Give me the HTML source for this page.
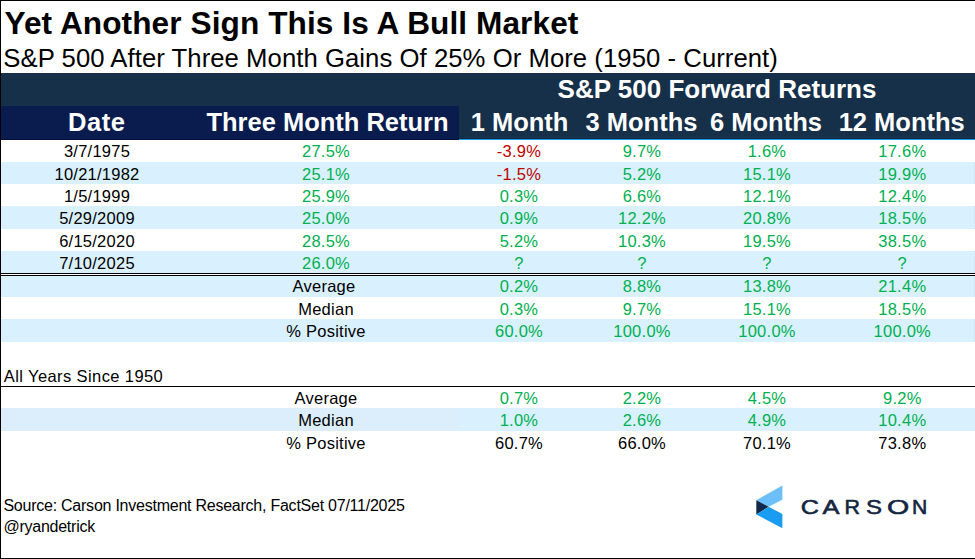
<!DOCTYPE html>
<html><head><meta charset="utf-8"><style>
html,body{margin:0;padding:0;}
body{width:975px;height:559px;position:relative;overflow:hidden;background:#fff;font-family:"Liberation Sans",sans-serif;}
.t{position:absolute;white-space:nowrap;}
.d{letter-spacing:0.25px;}
.r{position:absolute;left:0;width:975px;}
</style></head><body>
<div class="r" style="top:73px;height:66px;background:#16304a"></div>
<div class="r" style="top:138px;height:1px;left:459px;width:516px;background:#1a2841"></div>
<div class="r" style="top:106px;height:34px;width:459px;background:#0a1c4e"></div>
<div class="r" style="top:139px;height:1px;width:459px;background:#040f3c"></div>
<div class="r" style="top:139px;height:1px;left:459px;width:516px;background:#0a9fe6"></div>
<div class="r" style="top:162px;height:22px;background:#d9f0fe"></div>
<div class="r" style="top:206px;height:23px;background:#d9f0fe"></div>
<div class="r" style="top:251px;height:22px;background:#d9f0fe"></div>
<div class="t" style="left:-103.0px;width:400px;top:143.03px;font-size:16.5px;line-height:16.5px;color:#000;font-weight:normal;text-align:center;letter-spacing:0.25px;">3/7/1975</div>
<div class="t" style="left:126.0px;width:400px;top:143.03px;font-size:16.5px;line-height:16.5px;color:#00b050;font-weight:normal;text-align:center;letter-spacing:0.25px;">27.5%</div>
<div class="t" style="left:319.0px;width:400px;top:143.03px;font-size:16.5px;line-height:16.5px;color:#c00000;font-weight:normal;text-align:center;letter-spacing:0.25px;">-3.9%</div>
<div class="t" style="left:442.0px;width:400px;top:143.03px;font-size:16.5px;line-height:16.5px;color:#00b050;font-weight:normal;text-align:center;letter-spacing:0.25px;">9.7%</div>
<div class="t" style="left:567.0px;width:400px;top:143.03px;font-size:16.5px;line-height:16.5px;color:#00b050;font-weight:normal;text-align:center;letter-spacing:0.25px;">1.6%</div>
<div class="t" style="left:702.3px;width:400px;top:143.03px;font-size:16.5px;line-height:16.5px;color:#00b050;font-weight:normal;text-align:center;letter-spacing:0.25px;">17.6%</div>
<div class="t" style="left:-103.0px;width:400px;top:165.83px;font-size:16.5px;line-height:16.5px;color:#000;font-weight:normal;text-align:center;letter-spacing:0.25px;">10/21/1982</div>
<div class="t" style="left:126.0px;width:400px;top:165.83px;font-size:16.5px;line-height:16.5px;color:#00b050;font-weight:normal;text-align:center;letter-spacing:0.25px;">25.1%</div>
<div class="t" style="left:319.0px;width:400px;top:165.83px;font-size:16.5px;line-height:16.5px;color:#c00000;font-weight:normal;text-align:center;letter-spacing:0.25px;">-1.5%</div>
<div class="t" style="left:442.0px;width:400px;top:165.83px;font-size:16.5px;line-height:16.5px;color:#00b050;font-weight:normal;text-align:center;letter-spacing:0.25px;">5.2%</div>
<div class="t" style="left:567.0px;width:400px;top:165.83px;font-size:16.5px;line-height:16.5px;color:#00b050;font-weight:normal;text-align:center;letter-spacing:0.25px;">15.1%</div>
<div class="t" style="left:702.3px;width:400px;top:165.83px;font-size:16.5px;line-height:16.5px;color:#00b050;font-weight:normal;text-align:center;letter-spacing:0.25px;">19.9%</div>
<div class="t" style="left:-103.0px;width:400px;top:187.73px;font-size:16.5px;line-height:16.5px;color:#000;font-weight:normal;text-align:center;letter-spacing:0.25px;">1/5/1999</div>
<div class="t" style="left:126.0px;width:400px;top:187.73px;font-size:16.5px;line-height:16.5px;color:#00b050;font-weight:normal;text-align:center;letter-spacing:0.25px;">25.9%</div>
<div class="t" style="left:319.0px;width:400px;top:187.73px;font-size:16.5px;line-height:16.5px;color:#00b050;font-weight:normal;text-align:center;letter-spacing:0.25px;">0.3%</div>
<div class="t" style="left:442.0px;width:400px;top:187.73px;font-size:16.5px;line-height:16.5px;color:#00b050;font-weight:normal;text-align:center;letter-spacing:0.25px;">6.6%</div>
<div class="t" style="left:567.0px;width:400px;top:187.73px;font-size:16.5px;line-height:16.5px;color:#00b050;font-weight:normal;text-align:center;letter-spacing:0.25px;">12.1%</div>
<div class="t" style="left:702.3px;width:400px;top:187.73px;font-size:16.5px;line-height:16.5px;color:#00b050;font-weight:normal;text-align:center;letter-spacing:0.25px;">12.4%</div>
<div class="t" style="left:-103.0px;width:400px;top:210.23px;font-size:16.5px;line-height:16.5px;color:#000;font-weight:normal;text-align:center;letter-spacing:0.25px;">5/29/2009</div>
<div class="t" style="left:126.0px;width:400px;top:210.23px;font-size:16.5px;line-height:16.5px;color:#00b050;font-weight:normal;text-align:center;letter-spacing:0.25px;">25.0%</div>
<div class="t" style="left:319.0px;width:400px;top:210.23px;font-size:16.5px;line-height:16.5px;color:#00b050;font-weight:normal;text-align:center;letter-spacing:0.25px;">0.9%</div>
<div class="t" style="left:442.0px;width:400px;top:210.23px;font-size:16.5px;line-height:16.5px;color:#00b050;font-weight:normal;text-align:center;letter-spacing:0.25px;">12.2%</div>
<div class="t" style="left:567.0px;width:400px;top:210.23px;font-size:16.5px;line-height:16.5px;color:#00b050;font-weight:normal;text-align:center;letter-spacing:0.25px;">20.8%</div>
<div class="t" style="left:702.3px;width:400px;top:210.23px;font-size:16.5px;line-height:16.5px;color:#00b050;font-weight:normal;text-align:center;letter-spacing:0.25px;">18.5%</div>
<div class="t" style="left:-103.0px;width:400px;top:232.53px;font-size:16.5px;line-height:16.5px;color:#000;font-weight:normal;text-align:center;letter-spacing:0.25px;">6/15/2020</div>
<div class="t" style="left:126.0px;width:400px;top:232.53px;font-size:16.5px;line-height:16.5px;color:#00b050;font-weight:normal;text-align:center;letter-spacing:0.25px;">28.5%</div>
<div class="t" style="left:319.0px;width:400px;top:232.53px;font-size:16.5px;line-height:16.5px;color:#00b050;font-weight:normal;text-align:center;letter-spacing:0.25px;">5.2%</div>
<div class="t" style="left:442.0px;width:400px;top:232.53px;font-size:16.5px;line-height:16.5px;color:#00b050;font-weight:normal;text-align:center;letter-spacing:0.25px;">10.3%</div>
<div class="t" style="left:567.0px;width:400px;top:232.53px;font-size:16.5px;line-height:16.5px;color:#00b050;font-weight:normal;text-align:center;letter-spacing:0.25px;">19.5%</div>
<div class="t" style="left:702.3px;width:400px;top:232.53px;font-size:16.5px;line-height:16.5px;color:#00b050;font-weight:normal;text-align:center;letter-spacing:0.25px;">38.5%</div>
<div class="t" style="left:-103.0px;width:400px;top:254.53px;font-size:16.5px;line-height:16.5px;color:#000;font-weight:normal;text-align:center;letter-spacing:0.25px;">7/10/2025</div>
<div class="t" style="left:126.0px;width:400px;top:254.53px;font-size:16.5px;line-height:16.5px;color:#00b050;font-weight:normal;text-align:center;letter-spacing:0.25px;">26.0%</div>
<div class="t" style="left:319.0px;width:400px;top:254.53px;font-size:16.5px;line-height:16.5px;color:#00b050;font-weight:normal;text-align:center;letter-spacing:0.25px;">?</div>
<div class="t" style="left:442.0px;width:400px;top:254.53px;font-size:16.5px;line-height:16.5px;color:#00b050;font-weight:normal;text-align:center;letter-spacing:0.25px;">?</div>
<div class="t" style="left:567.0px;width:400px;top:254.53px;font-size:16.5px;line-height:16.5px;color:#00b050;font-weight:normal;text-align:center;letter-spacing:0.25px;">?</div>
<div class="t" style="left:702.3px;width:400px;top:254.53px;font-size:16.5px;line-height:16.5px;color:#00b050;font-weight:normal;text-align:center;letter-spacing:0.25px;">?</div>
<div class="r" style="top:273px;height:1px;background:#000"></div>
<div class="r" style="top:275px;height:1px;background:#000"></div>
<div class="r" style="top:276px;height:21px;background:#d9f0fe"></div>
<div class="r" style="top:319px;height:23px;background:#d9f0fe"></div>
<div class="t" style="left:124px;width:400px;top:277.53px;font-size:16.5px;line-height:16.5px;color:#000;font-weight:normal;text-align:center;letter-spacing:0.25px;">Average</div>
<div class="t" style="left:319.0px;width:400px;top:277.53px;font-size:16.5px;line-height:16.5px;color:#00b050;font-weight:normal;text-align:center;letter-spacing:0.25px;">0.2%</div>
<div class="t" style="left:442.0px;width:400px;top:277.53px;font-size:16.5px;line-height:16.5px;color:#00b050;font-weight:normal;text-align:center;letter-spacing:0.25px;">8.8%</div>
<div class="t" style="left:567.0px;width:400px;top:277.53px;font-size:16.5px;line-height:16.5px;color:#00b050;font-weight:normal;text-align:center;letter-spacing:0.25px;">13.8%</div>
<div class="t" style="left:702.3px;width:400px;top:277.53px;font-size:16.5px;line-height:16.5px;color:#00b050;font-weight:normal;text-align:center;letter-spacing:0.25px;">21.4%</div>
<div class="t" style="left:126.0px;width:400px;top:300.63px;font-size:16.5px;line-height:16.5px;color:#000;font-weight:normal;text-align:center;letter-spacing:0.25px;">Median</div>
<div class="t" style="left:319.0px;width:400px;top:300.63px;font-size:16.5px;line-height:16.5px;color:#00b050;font-weight:normal;text-align:center;letter-spacing:0.25px;">0.3%</div>
<div class="t" style="left:442.0px;width:400px;top:300.63px;font-size:16.5px;line-height:16.5px;color:#00b050;font-weight:normal;text-align:center;letter-spacing:0.25px;">9.7%</div>
<div class="t" style="left:567.0px;width:400px;top:300.63px;font-size:16.5px;line-height:16.5px;color:#00b050;font-weight:normal;text-align:center;letter-spacing:0.25px;">15.1%</div>
<div class="t" style="left:702.3px;width:400px;top:300.63px;font-size:16.5px;line-height:16.5px;color:#00b050;font-weight:normal;text-align:center;letter-spacing:0.25px;">18.5%</div>
<div class="t" style="left:126.0px;width:400px;top:323.13px;font-size:16.5px;line-height:16.5px;color:#000;font-weight:normal;text-align:center;letter-spacing:0.25px;">% Positive</div>
<div class="t" style="left:319.0px;width:400px;top:323.13px;font-size:16.5px;line-height:16.5px;color:#00b050;font-weight:normal;text-align:center;letter-spacing:0.25px;">60.0%</div>
<div class="t" style="left:442.0px;width:400px;top:323.13px;font-size:16.5px;line-height:16.5px;color:#00b050;font-weight:normal;text-align:center;letter-spacing:0.25px;">100.0%</div>
<div class="t" style="left:567.0px;width:400px;top:323.13px;font-size:16.5px;line-height:16.5px;color:#00b050;font-weight:normal;text-align:center;letter-spacing:0.25px;">100.0%</div>
<div class="t" style="left:702.3px;width:400px;top:323.13px;font-size:16.5px;line-height:16.5px;color:#00b050;font-weight:normal;text-align:center;letter-spacing:0.25px;">100.0%</div>
<div class="r" style="top:162px;height:22px;left:974px;width:1px;background:#cfe5fc"></div>
<div class="r" style="top:206px;height:23px;left:974px;width:1px;background:#cfe5fc"></div>
<div class="r" style="top:251px;height:22px;left:974px;width:1px;background:#cfe5fc"></div>
<div class="r" style="top:276px;height:21px;left:974px;width:1px;background:#cfe5fc"></div>
<div class="r" style="top:319px;height:23px;left:974px;width:1px;background:#cfe5fc"></div>
<div class="r" style="top:408px;height:23px;left:974px;width:1px;background:#cfe5fc"></div>
<div class="t" style="left:3.8px;width:300px;top:367.53px;font-size:16.5px;line-height:16.5px;color:#000;font-weight:normal;text-align:left;letter-spacing:0.4px;">All Years Since 1950</div>
<div class="r" style="top:386px;height:1px;background:#000"></div>
<div class="r" style="top:408px;height:23px;background:#d9f0fe"></div>
<div class="r" style="top:408px;height:23px;width:459px;background:#dcedfb"></div>
<div class="t" style="left:126.0px;width:400px;top:389.83px;font-size:16.5px;line-height:16.5px;color:#000;font-weight:normal;text-align:center;letter-spacing:0.25px;">Average</div>
<div class="t" style="left:319.0px;width:400px;top:389.83px;font-size:16.5px;line-height:16.5px;color:#00b050;font-weight:normal;text-align:center;letter-spacing:0.25px;">0.7%</div>
<div class="t" style="left:442.0px;width:400px;top:389.83px;font-size:16.5px;line-height:16.5px;color:#00b050;font-weight:normal;text-align:center;letter-spacing:0.25px;">2.2%</div>
<div class="t" style="left:567.0px;width:400px;top:389.83px;font-size:16.5px;line-height:16.5px;color:#00b050;font-weight:normal;text-align:center;letter-spacing:0.25px;">4.5%</div>
<div class="t" style="left:702.3px;width:400px;top:389.83px;font-size:16.5px;line-height:16.5px;color:#00b050;font-weight:normal;text-align:center;letter-spacing:0.25px;">9.2%</div>
<div class="t" style="left:126.0px;width:400px;top:411.73px;font-size:16.5px;line-height:16.5px;color:#000;font-weight:normal;text-align:center;letter-spacing:0.25px;">Median</div>
<div class="t" style="left:319.0px;width:400px;top:411.73px;font-size:16.5px;line-height:16.5px;color:#00b050;font-weight:normal;text-align:center;letter-spacing:0.25px;">1.0%</div>
<div class="t" style="left:442.0px;width:400px;top:411.73px;font-size:16.5px;line-height:16.5px;color:#00b050;font-weight:normal;text-align:center;letter-spacing:0.25px;">2.6%</div>
<div class="t" style="left:567.0px;width:400px;top:411.73px;font-size:16.5px;line-height:16.5px;color:#00b050;font-weight:normal;text-align:center;letter-spacing:0.25px;">4.9%</div>
<div class="t" style="left:702.3px;width:400px;top:411.73px;font-size:16.5px;line-height:16.5px;color:#00b050;font-weight:normal;text-align:center;letter-spacing:0.25px;">10.4%</div>
<div class="t" style="left:126.0px;width:400px;top:434.53px;font-size:16.5px;line-height:16.5px;color:#000;font-weight:normal;text-align:center;letter-spacing:0.25px;">% Positive</div>
<div class="t" style="left:319.0px;width:400px;top:434.53px;font-size:16.5px;line-height:16.5px;color:#000;font-weight:normal;text-align:center;letter-spacing:0.25px;">60.7%</div>
<div class="t" style="left:442.0px;width:400px;top:434.53px;font-size:16.5px;line-height:16.5px;color:#000;font-weight:normal;text-align:center;letter-spacing:0.25px;">66.0%</div>
<div class="t" style="left:567.0px;width:400px;top:434.53px;font-size:16.5px;line-height:16.5px;color:#000;font-weight:normal;text-align:center;letter-spacing:0.25px;">70.1%</div>
<div class="t" style="left:702.3px;width:400px;top:434.53px;font-size:16.5px;line-height:16.5px;color:#000;font-weight:normal;text-align:center;letter-spacing:0.25px;">73.8%</div>
<div class="t" style="left:459px;width:516px;top:76.39px;font-size:26px;line-height:26px;color:#fff;font-weight:bold;text-align:center;">S&amp;P 500 Forward Returns</div>
<div class="t" style="left:-103.5px;width:400px;top:110.11px;font-size:25.5px;line-height:25.5px;color:#fff;font-weight:bold;text-align:center;letter-spacing:0.6px;text-indent:0.6px;">Date</div>
<div class="t" style="left:127.5px;width:400px;top:110.11px;font-size:25.5px;line-height:25.5px;color:#fff;font-weight:bold;text-align:center;">Three Month Return</div>
<div class="t" style="left:319.5px;width:400px;top:110.11px;font-size:25.5px;line-height:25.5px;color:#fff;font-weight:bold;text-align:center;">1 Month</div>
<div class="t" style="left:441.5px;width:400px;top:110.11px;font-size:25.5px;line-height:25.5px;color:#fff;font-weight:bold;text-align:center;">3 Months</div>
<div class="t" style="left:566.0px;width:400px;top:110.11px;font-size:25.5px;line-height:25.5px;color:#fff;font-weight:bold;text-align:center;">6 Months</div>
<div class="t" style="left:701.7px;width:400px;top:110.11px;font-size:25.5px;line-height:25.5px;color:#fff;font-weight:bold;text-align:center;">12 Months</div>
<div class="t" style="left:4.5px;width:700px;top:7.75px;font-size:31.6px;line-height:31.6px;color:#000;font-weight:bold;text-align:left;letter-spacing:0.09px;">Yet Another Sign This Is A Bull Market</div>
<div class="t" style="left:3.3px;width:900px;top:45.74px;font-size:25.7px;line-height:25.7px;color:#000;font-weight:normal;text-align:left;letter-spacing:0.05px;">S&amp;P 500 After Three Month Gains Of 25% Or More (1950 - Current)</div>
<div class="t" style="left:3.4px;width:500px;top:498.06px;font-size:16px;line-height:16px;color:#000;font-weight:normal;text-align:left;letter-spacing:-0.24px;">Source: Carson Investment Research, FactSet 07/11/2025</div>
<div class="t" style="left:3.4px;width:200px;top:518.66px;font-size:16px;line-height:16px;color:#000;font-weight:normal;text-align:left;letter-spacing:-0.24px;">@ryandetrick</div>
<svg style="position:absolute;left:0;top:0" width="975" height="559">
<polygon points="756.3,500.2 782.4,485.4 782.4,499.7 768.6,506.8" fill="#6cbff8"/>
<polygon points="756.3,500.2 768.6,506.8 756.3,514.4" fill="#10294a"/>
<polygon points="756.3,514.4 768.6,506.8 782.4,513.9 782.4,528.2" fill="#1a9cf2"/>
</svg>
<svg style="position:absolute;left:0;top:0" width="975" height="559"><text x="800.8" y="514.2" font-family="Liberation Sans" font-size="19.3" fill="#13263f" stroke="#13263f" stroke-width="0.55" textLength="18.200000000000045" lengthAdjust="spacingAndGlyphs">C</text><text x="822.5" y="514.2" font-family="Liberation Sans" font-size="19.3" fill="#13263f" stroke="#13263f" stroke-width="0.55" textLength="17.0" lengthAdjust="spacingAndGlyphs">A</text><text x="844.5" y="514.2" font-family="Liberation Sans" font-size="19.3" fill="#13263f" stroke="#13263f" stroke-width="0.55" textLength="15.5" lengthAdjust="spacingAndGlyphs">R</text><text x="866" y="514.2" font-family="Liberation Sans" font-size="19.3" fill="#13263f" stroke="#13263f" stroke-width="0.55" textLength="16" lengthAdjust="spacingAndGlyphs">S</text><text x="887" y="514.2" font-family="Liberation Sans" font-size="19.3" fill="#13263f" stroke="#13263f" stroke-width="0.55" textLength="22.200000000000045" lengthAdjust="spacingAndGlyphs">O</text><text x="911.9" y="514.2" font-family="Liberation Sans" font-size="19.3" fill="#13263f" stroke="#13263f" stroke-width="0.55" textLength="15.300000000000068" lengthAdjust="spacingAndGlyphs">N</text></svg>
<div style="position:absolute;left:0;top:0;width:975px;height:1px;background:#000"></div>
<div style="position:absolute;left:0;top:0;width:1px;height:559px;background:#000"></div>
<div style="position:absolute;left:0;top:558px;width:975px;height:1px;background:#000"></div>
</body></html>
